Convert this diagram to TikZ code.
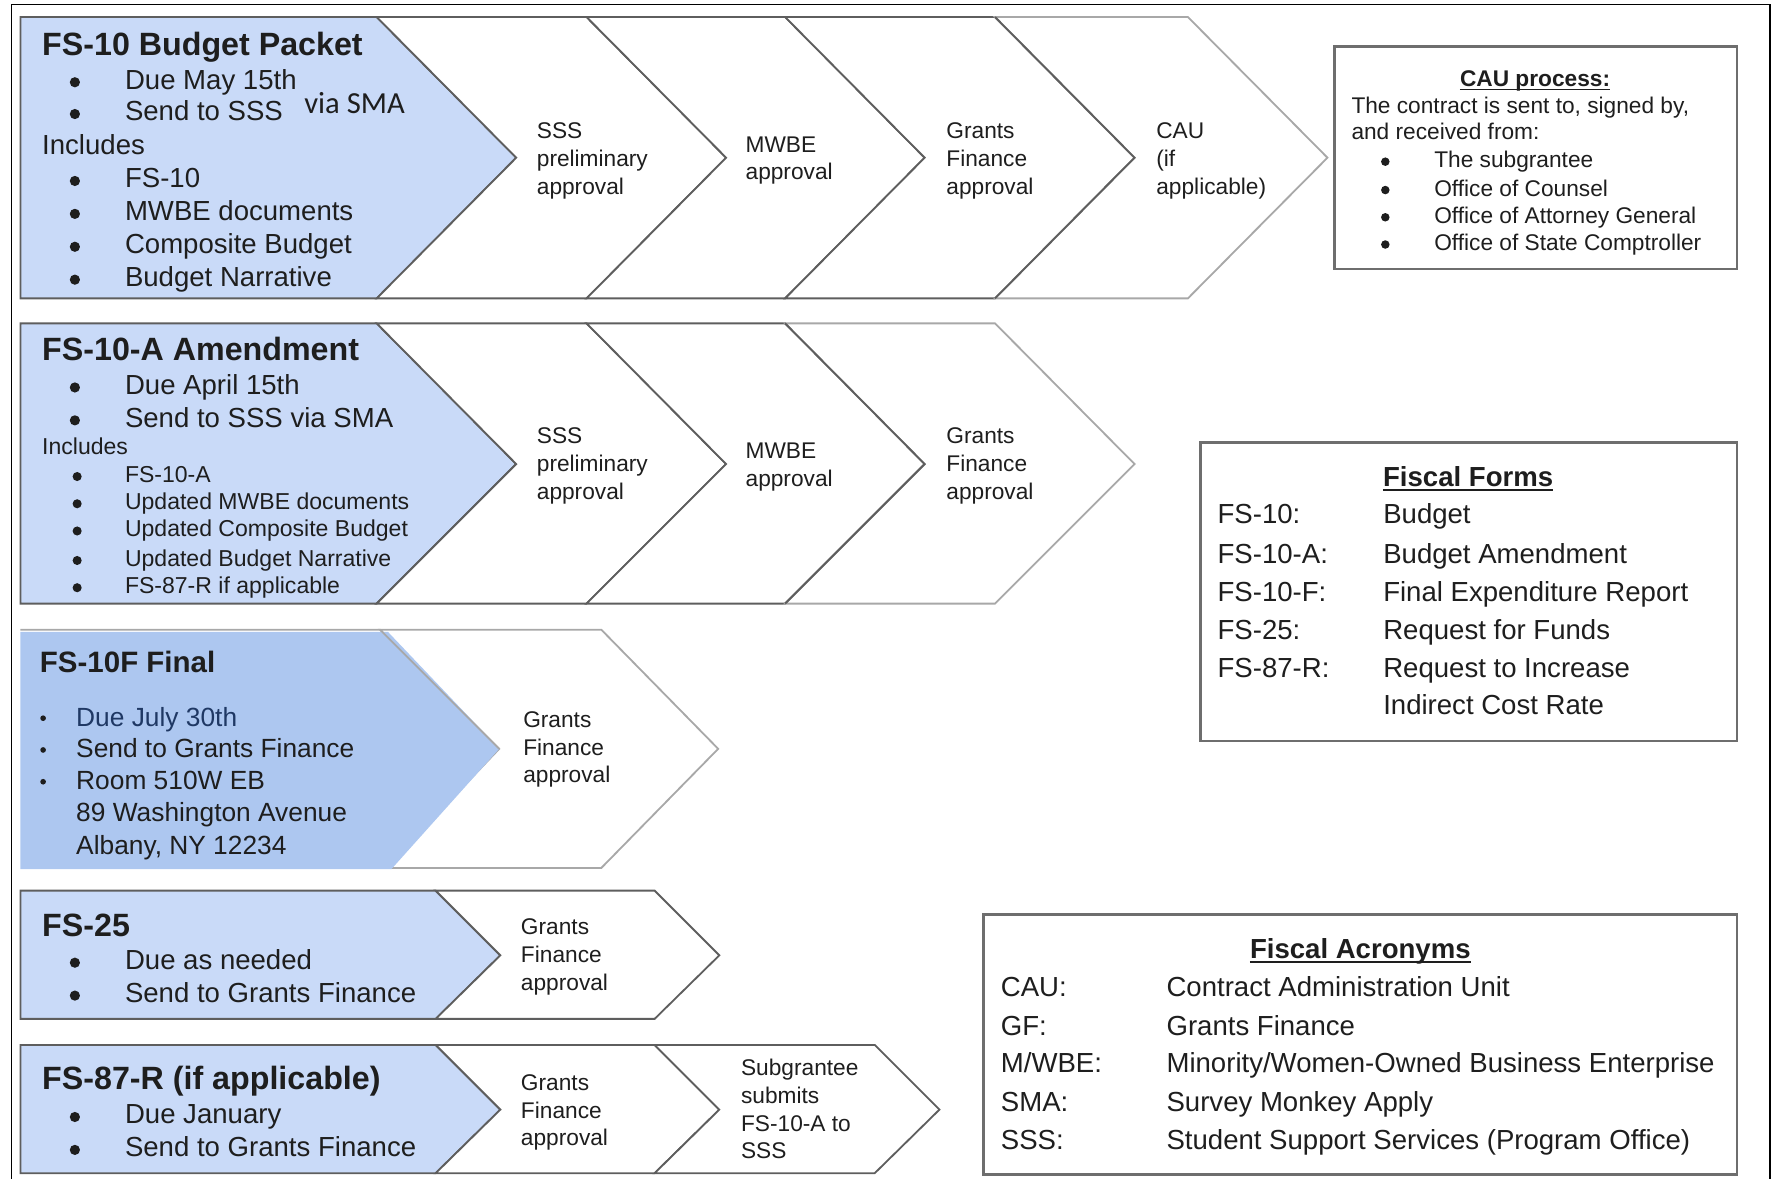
\documentclass[tikz,border=0pt]{standalone}
\usepackage{fontspec}
\setmainfont{Liberation Sans}
\newfontfamily\calib{Carlito}
\definecolor{blueA}{HTML}{C9DAF8}
\definecolor{blueB}{HTML}{ADC7F0}
\definecolor{edge}{HTML}{5E5E5E}
\definecolor{edgelt}{HTML}{A8A8A8}
\definecolor{boxedge}{HTML}{6E6E6E}
\definecolor{ink}{HTML}{1E1E1E}
\definecolor{navy}{HTML}{1F3864}
\newcommand\lblstack[4]{\foreach \s [count=\i] in {#4} \node[lbl] (#1-\i) at ({#2},{#3+24.5*(\i-1)}) {\s};}
\begin{document}
\begin{tikzpicture}[x=1pt,y=-1pt,
  chev/.style={draw=edge,line width=1.6pt,fill=white,line join=miter},
  chevlt/.style={chev,draw=edgelt},
  bluepent/.style={draw=edge,line width=1.6pt,fill=blueA,line join=miter},
  infobox/.style={draw=boxedge,line width=2.2pt,fill=white},
  txt/.style={anchor=base west,inner sep=0pt,text=ink,font=\fontsize{24.3}{29}\selectfont},
  ttl/.style={txt,font=\bfseries\fontsize{28.4}{34}\selectfont},
  sm/.style={txt,font=\fontsize{20.3}{24}\selectfont},
  lbl/.style={txt,font=\fontsize{20}{24}\selectfont},
  bul/.style={circle,fill=ink,inner sep=0pt,minimum size=9pt},
  sbul/.style={bul,minimum size=8pt},
  cbul/.style={bul,minimum size=7.5pt},
  tbul/.style={bul,minimum size=5pt},
  hd/.style={txt,anchor=base,font=\bfseries\fontsize{24.3}{29}\selectfont},
  uline/.style={draw=ink,line width=1.4pt}]
\useasboundingbox (0,0) rectangle (1568,1039);
% outer frame
\draw[line width=1pt,black] (10,1039) -- (10,4) -- (1560,4) -- (1560,1039);

% ---------- Row 1 ----------
\draw[bluepent] (18,15) -- (332,15) -- (455,139) -- (332,263) -- (18,263) -- cycle;
\draw[chev] (332,15) -- (517,15) -- (640,139) -- (517,263) -- (332,263) -- (455,139) -- cycle;
\draw[chev] (517,15) -- (692,15) -- (815,139) -- (692,263) -- (517,263) -- (640,139) -- cycle;
\draw[chev] (692,15) -- (877,15) -- (1000,139) -- (877,263) -- (692,263) -- (815,139) -- cycle;
\draw[chevlt] (877,15) -- (1047,15) -- (1170,139) -- (1047,263) -- (877,263) -- (1000,139) -- cycle;
\draw[edge,line width=1.6pt] (877,15) -- (1000,139) -- (877,263);

% ---------- Row 2 ----------
\draw[bluepent] (18,285) -- (332,285) -- (455,409) -- (332,532) -- (18,532) -- cycle;
\draw[chev] (332,285) -- (517,285) -- (640,409) -- (517,532) -- (332,532) -- (455,409) -- cycle;
\draw[chev] (517,285) -- (692,285) -- (815,409) -- (692,532) -- (517,532) -- (640,409) -- cycle;
\draw[chevlt] (692,285) -- (877,285) -- (1000,409) -- (877,532) -- (692,532) -- (815,409) -- cycle;
\draw[edge,line width=1.6pt] (692,285) -- (815,409) -- (692,532);

% ---------- Row 3 ----------
\draw[chevlt] (335,555) -- (530,555) -- (633,660) -- (530,765) -- (340,765) -- (440,660) -- cycle;
\fill[blueB] (18,557) -- (342,557) -- (440,660) -- (345,766) -- (18,766) -- cycle;
\draw[edgelt,line width=1.6pt] (18,555) -- (335,555) -- (440,660);

% ---------- Row 4 ----------
\draw[bluepent] (18,785) -- (384,785) -- (441,842) -- (384,898) -- (18,898) -- cycle;
\draw[chev] (384,785) -- (577,785) -- (634,842) -- (577,898) -- (384,898) -- (441,842) -- cycle;

% ---------- Row 5 ----------
\draw[bluepent] (18,921) -- (384,921) -- (441,978) -- (384,1034) -- (18,1034) -- cycle;
\draw[chev] (384,921) -- (577,921) -- (634,978) -- (577,1034) -- (384,1034) -- (441,978) -- cycle;
\draw[chev] (577,921) -- (771,921) -- (828,978) -- (771,1034) -- (577,1034) -- (634,978) -- cycle;

% ---------- info boxes ----------
\draw[infobox] (1176,41) rectangle (1531,237);
\draw[infobox] (1058,390) rectangle (1531,653);
\draw[infobox] (867,806) rectangle (1531,1035);

% ---------- Row 1 text ----------
\node[ttl] (t1) at (37,49) {FS-10 Budget Packet};
\node[bul] (b1a) at (66,72.5) {};  \node[txt] (r1a) at (110,78.5) {Due May 15th};
\node[bul] (b1b) at (66,100.5) {}; \node[txt] (r1b) at (110,106.5) {Send to SSS};
\node[txt,font=\calib\fontsize{27}{32}\selectfont] (r1v) at (268,100) {via SMA};
\node[txt] (r1i) at (37,136.5) {Includes};
\node[bul] (b1c) at (66,159.5) {}; \node[txt] (r1c) at (110,165.5) {FS-10};
\node[bul] (b1d) at (66,188.5) {}; \node[txt] (r1d) at (110,194.5) {MWBE documents};
\node[bul] (b1e) at (66,217.5) {}; \node[txt] (r1e) at (110,223.5) {Composite Budget};
\node[bul] (b1f) at (66,246.5) {}; \node[txt] (r1f) at (110,252.5) {Budget Narrative};
\lblstack{c1a}{473}{122}{SSS,preliminary,approval}
\lblstack{c1b}{657}{134}{MWBE,approval}
\lblstack{c1c}{834}{122}{Grants,Finance,approval}
\lblstack{c1d}{1019}{122}{CAU,{(if},{applicable)}}

% ---------- Row 2 text ----------
\node[ttl] (t2) at (37,318) {FS-10-A Amendment};
\node[bul] (b2a) at (66,341.5) {}; \node[txt] (r2a) at (110,347.5) {Due April 15th};
\node[bul] (b2b) at (66,370.5) {}; \node[txt] (r2b) at (110,376.5) {Send to SSS via SMA};
\node[sm] (r2i) at (37,401) {Includes};
\node[sbul] (b2c) at (68,420) {}; \node[sm] (r2c) at (110,425) {FS-10-A};
\node[sbul] (b2d) at (68,444) {}; \node[sm] (r2d) at (110,449) {Updated MWBE documents};
\node[sbul] (b2e) at (68,468) {}; \node[sm] (r2e) at (110,473) {Updated Composite Budget};
\node[sbul] (b2f) at (68,494) {}; \node[sm] (r2f) at (110,499) {Updated Budget Narrative};
\node[sbul] (b2g) at (68,518) {}; \node[sm] (r2g) at (110,523) {FS-87-R if applicable};
\lblstack{c2a}{473}{391}{SSS,preliminary,approval}
\lblstack{c2b}{657}{404}{MWBE,approval}
\lblstack{c2c}{834}{391}{Grants,Finance,approval}

% ---------- Row 3 text ----------
\node[ttl,font=\bfseries\fontsize{26}{31}\selectfont] (t3) at (35,593) {FS-10F Final};
\node[tbul] (b3a) at (38,633) {}; \node[txt,font=\fontsize{23.2}{28}\selectfont,text=navy] (r3a) at (67,640) {Due July 30th};
\node[tbul] (b3b) at (38,661) {}; \node[txt,font=\fontsize{23.2}{28}\selectfont] (r3b) at (67,668) {Send to Grants Finance};
\node[tbul] (b3c) at (38,689) {}; \node[txt,font=\fontsize{23.2}{28}\selectfont] (r3c) at (67,696) {Room 510W EB};
\node[txt,font=\fontsize{23.2}{28}\selectfont] (r3d) at (67,724) {89 Washington Avenue};
\node[txt,font=\fontsize{23.2}{28}\selectfont] (r3e) at (67,753) {Albany, NY 12234};
\lblstack{c3a}{461}{641}{Grants,Finance,approval}

% ---------- Row 4 text ----------
\node[ttl] (t4) at (37,825) {FS-25};
\node[bul] (b4a) at (66,848.5) {}; \node[txt] (r4a) at (110,854.5) {Due as needed};
\node[bul] (b4b) at (66,877.5) {}; \node[txt] (r4b) at (110,883.5) {Send to Grants Finance};
\lblstack{c4a}{459}{824}{Grants,Finance,approval}

% ---------- Row 5 text ----------
\node[ttl] (t5) at (37,960) {FS-87-R (if applicable)};
\node[bul] (b5a) at (66,984.5) {}; \node[txt] (r5a) at (110,990.5) {Due January};
\node[bul] (b5b) at (66,1013.5) {}; \node[txt] (r5b) at (110,1019.5) {Send to Grants Finance};
\lblstack{c5a}{459}{961}{Grants,Finance,approval}
\lblstack{c5b}{653}{948}{Subgrantee,submits,FS-10-A to,SSS}

% ---------- CAU box ----------
\node[lbl,anchor=base,font=\bfseries\fontsize{20}{24}\selectfont] (caut) at (1353,76) {CAU process:};
\draw[uline] ([yshift=-3pt]caut.base west) -- ([yshift=-3pt]caut.base east);
\node[lbl] (caua) at (1191,100) {The contract is sent to, signed by,};
\node[lbl] (caub) at (1191,123) {and received from:};
\node[cbul] (bca) at (1221,142.5) {}; \node[lbl] (cauc) at (1264,148) {The subgrantee};
\node[cbul] (bcb) at (1221,167.5) {}; \node[lbl] (caud) at (1264,173) {Office of Counsel};
\node[cbul] (bcc) at (1221,191.5) {}; \node[lbl] (caue) at (1264,197) {Office of Attorney General};
\node[cbul] (bcd) at (1221,215.5) {}; \node[lbl] (cauf) at (1264,221) {Office of State Comptroller};

% ---------- Fiscal Forms ----------
\node[hd] (fft) at (1294,428.5) {Fiscal Forms};
\draw[uline] ([yshift=-3.5pt]fft.base west) -- ([yshift=-3.5pt]fft.base east);
\node[txt] (ffa1) at (1073,461.5) {FS-10:};   \node[txt] (ffa2) at (1219,461.5) {Budget};
\node[txt] (ffb1) at (1073,496.5) {FS-10-A:}; \node[txt] (ffb2) at (1219,496.5) {Budget Amendment};
\node[txt] (ffc1) at (1073,530.5) {FS-10-F:}; \node[txt] (ffc2) at (1219,530.5) {Final Expenditure Report};
\node[txt] (ffd1) at (1073,563.5) {FS-25:};   \node[txt] (ffd2) at (1219,563.5) {Request for Funds};
\node[txt] (ffe1) at (1073,597.5) {FS-87-R:}; \node[txt] (ffe2) at (1219,597.5) {Request to Increase};
\node[txt] (fff2) at (1219,629.5) {Indirect Cost Rate};

% ---------- Fiscal Acronyms ----------
\node[hd] (fat) at (1199,844.5) {Fiscal Acronyms};
\draw[uline] ([yshift=-3.5pt]fat.base west) -- ([yshift=-3.5pt]fat.base east);
\node[txt] (faa1) at (882,878.5) {CAU:};   \node[txt] (faa2) at (1028,878.5) {Contract Administration Unit};
\node[txt] (fab1) at (882,912.5) {GF:};    \node[txt] (fab2) at (1028,912.5) {Grants Finance};
\node[txt] (fac1) at (882,945.5) {M/WBE:}; \node[txt] (fac2) at (1028,945.5) {Minority/Women-Owned Business Enterprise};
\node[txt] (fad1) at (882,979.5) {SMA:};   \node[txt] (fad2) at (1028,979.5) {Survey Monkey Apply};
\node[txt] (fae1) at (882,1013.5) {SSS:};  \node[txt] (fae2) at (1028,1013.5) {Student Support Services (Program Office)};
\end{tikzpicture}
\end{document}
